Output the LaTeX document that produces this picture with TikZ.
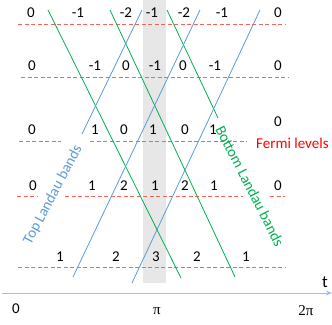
\documentclass[tikz,border=0pt]{standalone}
\usepackage{fontspec}
\setmainfont{Carlito}
\newfontfamily\piface{Liberation Serif}
\usetikzlibrary{arrows.meta}
\definecolor{fermired}{RGB}{255,0,0}
\definecolor{levelred}{RGB}{246,100,88}
\definecolor{topblue}{RGB}{91,155,213}
\definecolor{botgreen}{RGB}{0,176,80}
\definecolor{axisblue}{RGB}{157,195,230}
\definecolor{bandgray}{RGB}{231,231,231}

\begin{document}
\begin{tikzpicture}[x=1pt,y=-1pt,font=\fontsize{15}{17}\selectfont,
  level/.style={levelred,dash pattern=on 4pt off 2.5pt,line width=0.8pt},
  topband/.style={topblue,line width=0.8pt},
  botband/.style={botgreen,line width=0.8pt}]
\useasboundingbox (0,0) rectangle (332,324);
\fill[bandgray] (143,0) rectangle (166,283);
% Fermi levels
\draw[level] (18,24)--(285,24);
\draw[level] (21,77)--(288,77);
\draw[level] (19,141)--(61,141) (90,141)--(247,141);
\draw[level] (17,196)--(37,196) (65,196)--(243,196) (270,196)--(285,196);
\draw[level] (18,267)--(285,267);
% bands
\draw[botband] (48,10)--(181,278);
\draw[botband] (110,10)--(235,277);
\draw[botband] (167,10)--(218,118);
\draw[topband] (82,134)--(142,10);
\draw[topband] (73,277)--(200,10);
\draw[topband] (132,283)--(260,10);
% fillings
\foreach \x/\t [count=\c] in {31/0,78/-1,126/-2,152/-1,184/-2,222/-1,278/0}
   \node (ra\c) at (\x,13) {\t};
\foreach \x/\t [count=\c] in {32/0,95/-1,126/0,155/-1,183/0,215/-1,278/0}
   \node (rb\c) at (\x,66) {\t};
\foreach \x/\t [count=\c] in {32/0,95/1,124/0,153/1,185/0,213/1}
   \node (rc\c) at (\x,130) {\t};
\node (rc7) at (278,122) {0};
\foreach \x/\t [count=\c] in {33/0,92/1,124/2,155/1,185/2,214/1,278/0}
   \node (rd\c) at (\x,186) {\t};
\foreach \x/\t [count=\c] in {60/1,116/2,156/3,197/2,246/1}
   \node (re\c) at (\x,257) {\t};
\node[fermired,anchor=west,inner sep=1pt] (fermi) at (255,143) {Fermi levels};
\node[topblue,rotate=62,inner sep=0pt] (toplbl) at (53,195) {Top Landau bands};
\node[botgreen,rotate=-63,inner sep=0pt] (botlbl) at (250,186) {Bottom Landau bands};
% time axis
\draw[axisblue,line width=1pt,-{Stealth[length=6pt,width=5pt]}] (2,293)--(332,293);
\node[font=\fontsize{17}{19}\selectfont] (tlbl) at (325,282) {t};
\node (t0) at (16,309) {0};
\node[font=\piface\fontsize{15}{17}\selectfont] (tpi) at (157,311) {π};
\node[font=\piface\fontsize{15}{17}\selectfont] (t2pi) at (306,311) {2π};
\end{tikzpicture}
\end{document}
